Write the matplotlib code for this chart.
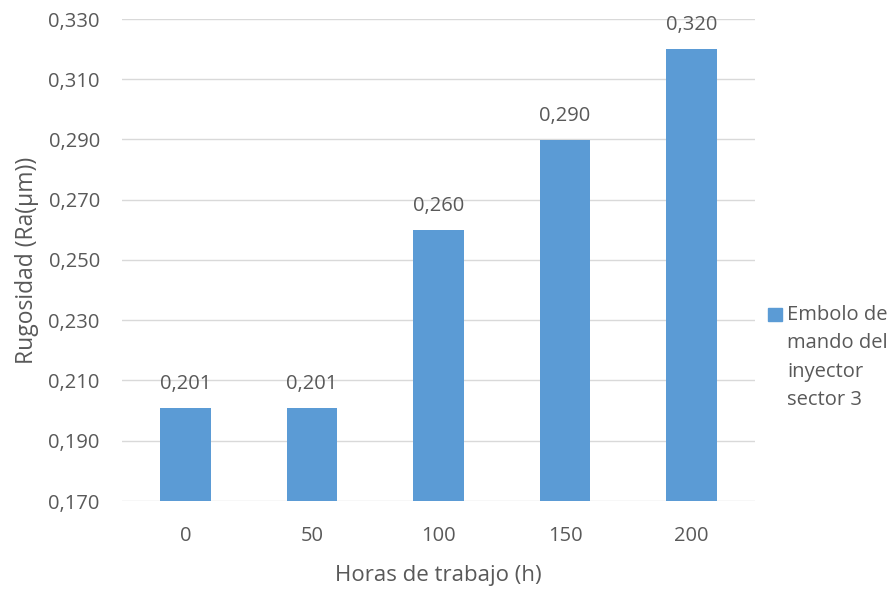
import matplotlib.pyplot as plt
from matplotlib.patches import Rectangle

# roughness of the injector control plunger vs working hours
horas = ["0", "50", "100", "150", "200"]
rugosidad = [0.201, 0.201, 0.260, 0.290, 0.320]
etiqueta_serie = "Embolo de\nmando del\ninyector\nsector 3"

texto = "#595959"
azul = "#5B9BD5"

plt.rcParams["font.family"] = ["Open Sans", "DejaVu Sans"]

fig = plt.figure(figsize=(8.94, 5.89), dpi=100)
ax = fig.add_axes([122 / 894, 1 - 501 / 589, (755 - 122) / 894, (501 - 19) / 589])

x = range(len(horas))
bars = ax.bar(x, rugosidad, width=0.4, color=azul, zorder=3)

for b, v in zip(bars, rugosidad):
    ax.annotate(f"{v:.3f}".replace(".", ","), (b.get_x() + b.get_width() / 2, v),
                xytext=(0, 10), textcoords="offset points", ha="center", va="bottom",
                fontsize=14.5, color=texto)

ax.set_xlim(-0.5, len(horas) - 0.5)
ax.set_ylim(0.170, 0.330)
yt = [0.170 + 0.02 * i for i in range(9)]
ax.set_yticks(yt)
ax.set_yticklabels([f"{t:.3f}".replace(".", ",") for t in yt])
ax.set_xticks(list(x))
ax.set_xticklabels(horas)
ax.tick_params(axis="y", length=0, pad=16, labelsize=14.5, labelcolor=texto)
ax.tick_params(axis="x", length=0, pad=18, labelsize=14.5, labelcolor=texto)
ax.grid(axis="y", color="#D9D9D9", linewidth=1, zorder=0)
for s in ax.spines.values():
    s.set_visible(False)

ax.set_xlabel("Horas de trabajo (h)", fontsize=16, color=texto, labelpad=14)
ax.set_ylabel("Rugosidad (Ra(µm))", fontsize=16.5, color=texto, labelpad=7)

# legend: square marker next to the first line of the series name
fig.patches.append(Rectangle((768 / 894, 1 - 321 / 589), 14 / 894, 13 / 589,
                             transform=fig.transFigure, color=azul))
fig.text(787 / 894, 1 - 305 / 589, etiqueta_serie, ha="left", va="top",
         fontsize=14.5, color=texto, linespacing=1.55)

fig.savefig("out.png", dpi=100)
